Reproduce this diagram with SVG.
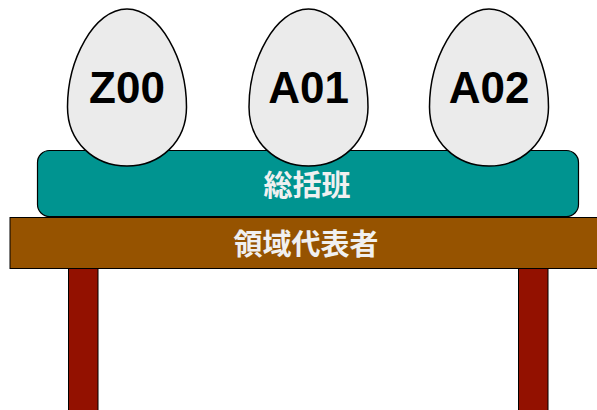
<svg xmlns="http://www.w3.org/2000/svg" width="597" height="410" viewBox="0 0 597 410">
<style>
.leg{fill:#931100;stroke:#000;stroke-width:1}
.egg{fill:#ebebeb;stroke:#000;stroke-width:1.5}
.eggt{font-family:"Liberation Sans",Arial,sans-serif;font-weight:bold;font-size:44px;fill:#000;text-anchor:middle}
.jt{font-family:"Noto Sans CJK JP","Noto Sans CJK SC",sans-serif;font-weight:bold;font-size:29px;fill:#f0f0f0;text-anchor:middle}
</style>
<defs>
<path id="eggshape" d="M0,9 C33,9 59.5,60 59.5,107 C59.5,142 33,166 0,166 C-33,166 -59.5,142 -59.5,107 C-59.5,60 -33,9 0,9 Z"/>
</defs>
<rect width="597" height="410" fill="#fff"/>
<g id="legs">
<rect class="leg" x="68.5" y="268" width="29.5" height="150"/>
<rect class="leg" x="518.5" y="268" width="29.5" height="150"/>
</g>
<g id="ryoiki">
<rect x="10" y="217.5" width="600" height="51" fill="#965300" stroke="#000" stroke-width="1"/>
<text class="jt" x="306" y="255">領域代表者</text>
</g>
<g id="sokatsu">
<rect x="37.5" y="150.5" width="541" height="66" rx="12" fill="#009490" stroke="#000" stroke-width="1.2"/>
<text class="jt" x="307" y="196">総括班</text>
</g>
<g id="Z00">
<use href="#eggshape" class="egg" transform="translate(127,0)"/>
<text class="eggt" x="127" y="103">Z00</text>
</g>
<g id="A01">
<use href="#eggshape" class="egg" transform="translate(308.5,0)"/>
<text class="eggt" x="308.5" y="103">A01</text>
</g>
<g id="A02">
<use href="#eggshape" class="egg" transform="translate(489,0)"/>
<text class="eggt" x="489" y="103">A02</text>
</g>
<g id="connectors"/>
</svg>
